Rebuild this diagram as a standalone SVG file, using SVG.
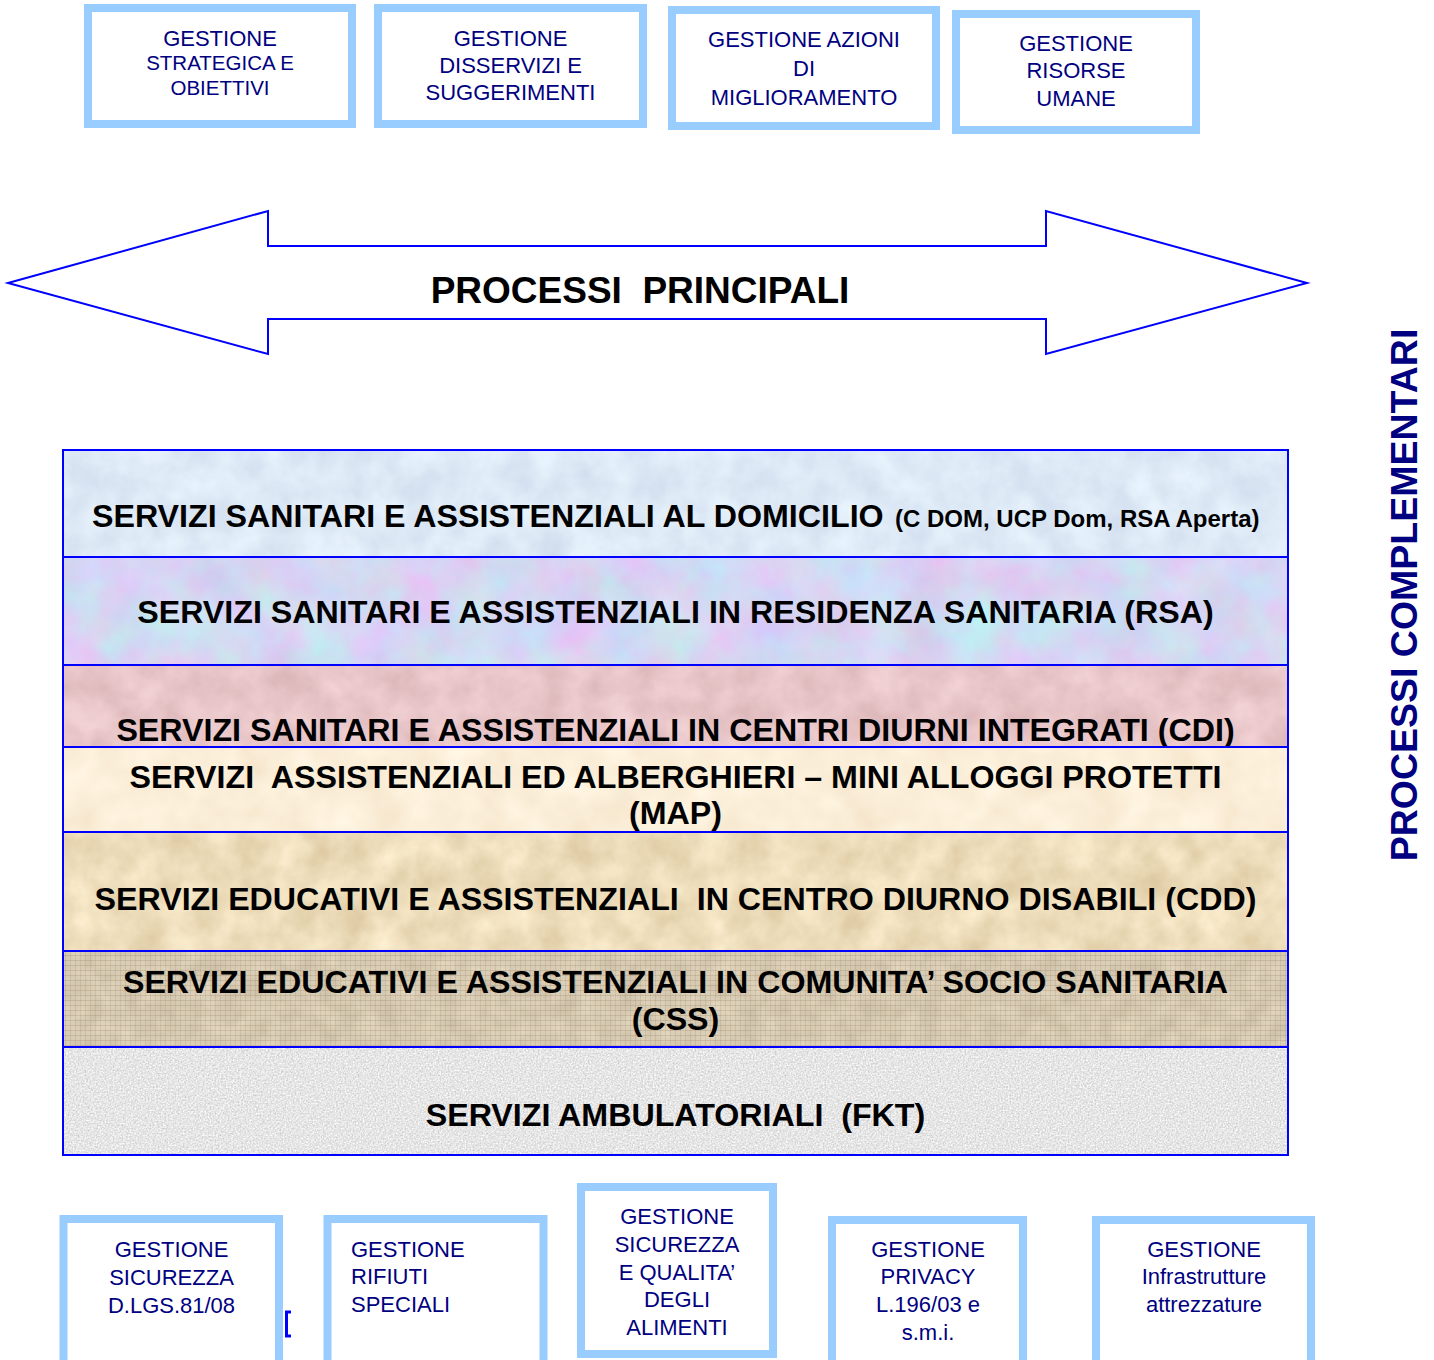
<svg xmlns="http://www.w3.org/2000/svg" width="1434" height="1360" viewBox="0 0 1434 1360">
<defs>
<style>
.box{fill:#fff;stroke:#99ccff;stroke-width:8}
.bt{font-family:"Liberation Sans",Arial,sans-serif;font-size:22px;fill:#000080;text-anchor:middle}
.btl{font-family:"Liberation Sans",Arial,sans-serif;font-size:22px;fill:#000080}
.band{stroke:none}
.bline{fill:none;stroke:#0000ff;stroke-width:2}
.st{font-family:"Liberation Sans",Arial,sans-serif;font-size:32.2px;font-weight:bold;fill:#000;text-anchor:middle}
</style>
<filter id="f1" x="0" y="0" width="1" height="1" color-interpolation-filters="sRGB">
<feTurbulence type="fractalNoise" baseFrequency="0.03" numOctaves="4" seed="3"/>
<feColorMatrix type="matrix" values="0.12 0 0 0 0.81  0.12 0 0 0 0.855  0.08 0 0 0 0.925  0 0 0 0 1"/>
</filter>
<filter id="f2" x="0" y="0" width="1" height="1" color-interpolation-filters="sRGB">
<feTurbulence type="fractalNoise" baseFrequency="0.02" numOctaves="4" seed="7"/>
<feColorMatrix type="matrix" values="0.2 -0.1 0 0 0.78  -0.1 0.2 0 0 0.795  0 0 0.1 0 0.9  0 0 0 0 1"/>
</filter>
<filter id="f3" x="0" y="0" width="1" height="1" color-interpolation-filters="sRGB">
<feTurbulence type="fractalNoise" baseFrequency="0.03" numOctaves="4" seed="11"/>
<feColorMatrix type="matrix" values="0.12 0 0 0 0.85  0.15 0 0 0 0.7  0.15 0 0 0 0.71  0 0 0 0 1"/>
</filter>
<filter id="f4" x="0" y="0" width="1" height="1" color-interpolation-filters="sRGB">
<feTurbulence type="fractalNoise" baseFrequency="0.025" numOctaves="3" seed="5"/>
<feColorMatrix type="matrix" values="0.06 0 0 0 0.955  0.1 0 0 0 0.885  0.14 0 0 0 0.78  0 0 0 0 1"/>
</filter>
<filter id="f5" x="0" y="0" width="1" height="1" color-interpolation-filters="sRGB">
<feTurbulence type="fractalNoise" baseFrequency="0.03" numOctaves="4" seed="9"/>
<feColorMatrix type="matrix" values="0.15 0 0 0 0.855  0.18 0 0 0 0.775  0.22 0 0 0 0.62  0 0 0 0 1"/>
</filter>
<filter id="f6" x="0" y="0" width="1" height="1" color-interpolation-filters="sRGB">
<feTurbulence type="fractalNoise" baseFrequency="0.05" numOctaves="3" seed="13"/>
<feColorMatrix type="matrix" values="0.12 0 0 0 0.79  0.12 0 0 0 0.74  0.12 0 0 0 0.65  0 0 0 0 1"/>
</filter>
<filter id="f7" x="0" y="0" width="1" height="1" color-interpolation-filters="sRGB">
<feTurbulence type="fractalNoise" baseFrequency="0.6" numOctaves="2" seed="2"/>
<feColorMatrix type="matrix" values="0.3 0 0 0 0.75  0.3 0 0 0 0.75  0.3 0 0 0 0.75  0 0 0 0 1"/>
</filter>
<pattern id="weave" width="5" height="5" patternUnits="userSpaceOnUse">
<rect x="0" y="0" width="5" height="1" fill="#8f7a58" opacity="0.25"/>
<rect x="0" y="0" width="1" height="5" fill="#8f7a58" opacity="0.18"/>
</pattern>
</defs>

<g id="top-boxes">
<g id="node-strategica">
<rect class="box" x="88" y="8" width="264" height="116"/>
<text class="bt" x="220" y="46">GESTIONE</text>
<text class="bt" x="220" y="70" style="font-size:20.5px">STRATEGICA E</text>
<text class="bt" x="220" y="95" style="font-size:20.5px">OBIETTIVI</text>
</g>
<g id="node-disservizi">
<rect class="box" x="378" y="8" width="265" height="116"/>
<text class="bt" x="510.5" y="46">GESTIONE</text>
<text class="bt" x="510.5" y="73">DISSERVIZI E</text>
<text class="bt" x="510.5" y="100">SUGGERIMENTI</text>
</g>
<g id="node-azioni">
<rect class="box" x="672" y="10" width="264" height="116"/>
<text class="bt" x="804" y="47">GESTIONE AZIONI</text>
<text class="bt" x="804" y="76">DI</text>
<text class="bt" x="804" y="105">MIGLIORAMENTO</text>
</g>
<g id="node-risorse">
<rect class="box" x="956" y="14" width="240" height="116"/>
<text class="bt" x="1076" y="51">GESTIONE</text>
<text class="bt" x="1076" y="78">RISORSE</text>
<text class="bt" x="1076" y="106">UMANE</text>
</g>
</g>

<g id="connectors">
<g id="arrow-processi-principali">
<polygon points="8,283 268,211 268,246 1046,246 1046,211 1307,283 1046,354 1046,319 268,319 268,354" fill="#fff" stroke="#0000ff" stroke-width="2" stroke-linejoin="miter"/>
<text x="640" y="303" style="font-family:'Liberation Sans',Arial,sans-serif;font-size:37px;font-weight:bold;fill:#000;text-anchor:middle" xml:space="preserve">PROCESSI  PRINCIPALI</text>
</g>
</g>

<g id="bands">
<g id="band-domicilio">
<rect class="band" x="63" y="450" width="1225" height="107" filter="url(#f1)"/>
<rect class="bline" x="63" y="450" width="1225" height="107"/>
<text x="92" y="527" style="font-family:'Liberation Sans',Arial,sans-serif;font-size:32.2px;font-weight:bold;fill:#000">SERVIZI SANITARI E ASSISTENZIALI AL DOMICILIO<tspan x="895" style="font-size:24px">(C DOM, UCP Dom, RSA Aperta)</tspan></text>
</g>
<g id="band-rsa">
<rect class="band" x="63" y="557" width="1225" height="108" filter="url(#f2)"/>
<rect class="bline" x="63" y="557" width="1225" height="108"/>
<text class="st" x="675.5" y="623">SERVIZI SANITARI E ASSISTENZIALI IN RESIDENZA SANITARIA (RSA)</text>
</g>
<g id="band-cdi">
<rect class="band" x="63" y="665" width="1225" height="82" filter="url(#f3)"/>
<rect class="bline" x="63" y="665" width="1225" height="82"/>
<text class="st" x="675.5" y="741">SERVIZI SANITARI E ASSISTENZIALI IN CENTRI DIURNI INTEGRATI (CDI)</text>
</g>
<g id="band-map">
<rect class="band" x="63" y="747" width="1225" height="85" filter="url(#f4)"/>
<rect class="bline" x="63" y="747" width="1225" height="85"/>
<text class="st" x="675.5" y="788" xml:space="preserve">SERVIZI  ASSISTENZIALI ED ALBERGHIERI – MINI ALLOGGI PROTETTI</text>
<text class="st" x="675.5" y="824">(MAP)</text>
</g>
<g id="band-cdd">
<rect class="band" x="63" y="832" width="1225" height="119" filter="url(#f5)"/>
<rect class="bline" x="63" y="832" width="1225" height="119"/>
<text class="st" x="675.5" y="910" xml:space="preserve">SERVIZI EDUCATIVI E ASSISTENZIALI  IN CENTRO DIURNO DISABILI (CDD)</text>
</g>
<g id="band-css">
<rect class="band" x="63" y="951" width="1225" height="96" filter="url(#f6)"/>
<rect x="63" y="951" width="1225" height="96" fill="url(#weave)"/>
<rect class="bline" x="63" y="951" width="1225" height="96"/>
<text class="st" x="675.5" y="993">SERVIZI EDUCATIVI E ASSISTENZIALI IN COMUNITA’ SOCIO SANITARIA</text>
<text class="st" x="675.5" y="1030">(CSS)</text>
</g>
<g id="band-fkt">
<rect class="band" x="63" y="1047" width="1225" height="108" filter="url(#f7)"/>
<rect class="bline" x="63" y="1047" width="1225" height="108"/>
<text class="st" x="675.5" y="1126" xml:space="preserve">SERVIZI AMBULATORIALI  (FKT)</text>
</g>
</g>

<g id="label-complementari">
<text transform="translate(1417,595) rotate(-90)" style="font-family:'Liberation Sans',Arial,sans-serif;font-size:37.5px;font-weight:bold;fill:#000080;text-anchor:middle">PROCESSI COMPLEMENTARI</text>
</g>

<g id="bottom-boxes">
<g id="node-sicurezza">
<rect class="box" x="63.5" y="1219" width="215.5" height="160"/>
<text class="bt" x="171.5" y="1257">GESTIONE</text>
<text class="bt" x="171.5" y="1285">SICUREZZA</text>
<text class="bt" x="171.5" y="1313">D.LGS.81/08</text>
</g>
<path d="M291,1312 H286.5 V1336 H291" fill="none" stroke="#0000ff" stroke-width="3"/>
<g id="node-rifiuti">
<rect class="box" x="327.5" y="1219" width="216" height="160"/>
<text class="btl" x="351" y="1257">GESTIONE</text>
<text class="btl" x="351" y="1284">RIFIUTI</text>
<text class="btl" x="351" y="1312">SPECIALI</text>
</g>
<g id="node-alimenti">
<rect class="box" x="581" y="1187" width="192" height="167"/>
<text class="bt" x="677" y="1224">GESTIONE</text>
<text class="bt" x="677" y="1252">SICUREZZA</text>
<text class="bt" x="677" y="1280">E QUALITA’</text>
<text class="bt" x="677" y="1307">DEGLI</text>
<text class="bt" x="677" y="1335">ALIMENTI</text>
</g>
<g id="node-privacy">
<rect class="box" x="832" y="1220" width="191" height="160"/>
<text class="bt" x="928" y="1257">GESTIONE</text>
<text class="bt" x="928" y="1284">PRIVACY</text>
<text class="bt" x="928" y="1312">L.196/03 e</text>
<text class="bt" x="928" y="1340">s.m.i.</text>
</g>
<g id="node-infrastrutture">
<rect class="box" x="1096" y="1220" width="215" height="160"/>
<text class="bt" x="1204" y="1257">GESTIONE</text>
<text class="bt" x="1204" y="1284">Infrastrutture</text>
<text class="bt" x="1204" y="1312">attrezzature</text>
</g>
</g>
</svg>
